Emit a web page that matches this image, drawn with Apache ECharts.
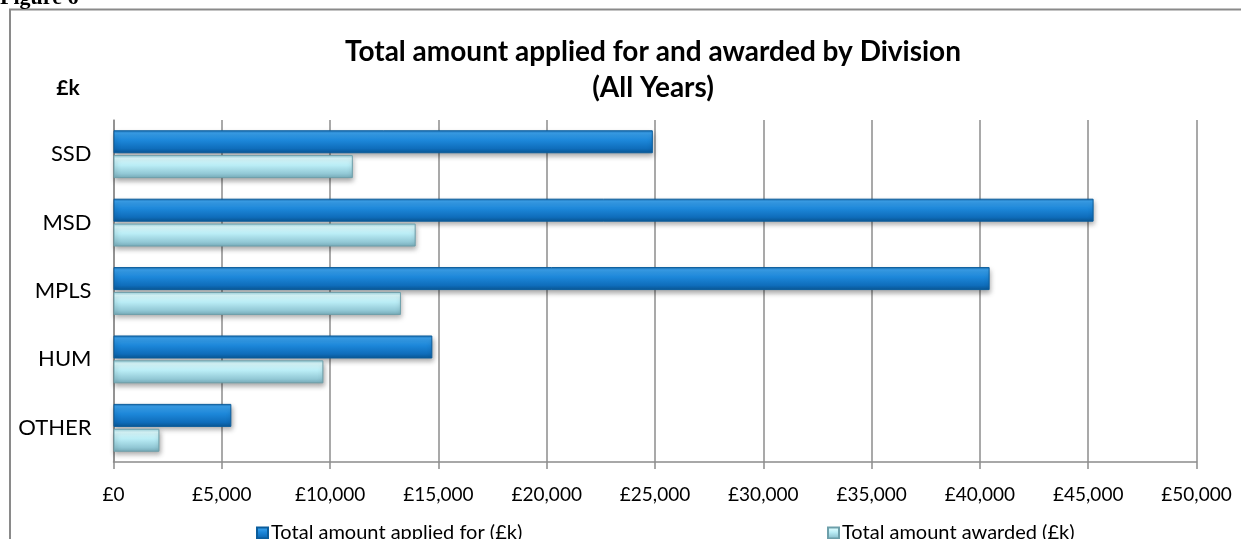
<!DOCTYPE html>
<html>
<head>
<meta charset="utf-8">
<script src="https://cdn.jsdelivr.net/npm/echarts@6/dist/echarts.min.js"></script>
<style>
html,body{margin:0;padding:0;background:#fff;}
#c{width:1241px;height:539px;}
</style>
</head>
<body>
<div id="c"></div>
<script>
const categories = ["SSD", "MSD", "MPLS", "HUM", "OTHER"];
const appliedValues = [24900, 45250, 40450, 14720, 5440];
const awardedValues = [11050, 13950, 13270, 9690, 2120];
const seriesNames = ["Total amount applied for (£k)", "Total amount awarded (£k)"];
const xTicks = { min: 0, max: 50000, interval: 5000 };

const FONT = "Lato, 'Open Sans', sans-serif";

const appliedGrad = new echarts.graphic.LinearGradient(0, 0, 0, 1, [
  { offset: 0, color: '#1a6db0' },
  { offset: 0.12, color: '#3aa2ee' },
  { offset: 0.45, color: '#1c86d8' },
  { offset: 0.8, color: '#0f6dbb' },
  { offset: 1, color: '#0a5794' }
]);
const awardedGrad = new echarts.graphic.LinearGradient(0, 0, 0, 1, [
  { offset: 0, color: '#98cfdc' },
  { offset: 0.15, color: '#dcfcff' },
  { offset: 0.45, color: '#b9ecf5' },
  { offset: 0.8, color: '#93c9d6' },
  { offset: 1, color: '#78adbb' }
]);

const chart = echarts.init(document.getElementById('c'), null, { renderer: 'canvas' });
chart.setOption({
  animation: false,
  backgroundColor: '#ffffff',
  title: {
    text: 'Total amount applied for and awarded by Division\n(All Years)',
    left: 648,
    top: 29,
    textAlign: 'center',
    textStyle: { fontFamily: FONT, fontWeight: 'bold', fontSize: 28, lineHeight: 36, color: '#000' }
  },
  graphic: [
    { type: 'rect', shape: { x: 10, y: 9.5, width: 1260, height: 560 }, style: { fill: 'none', stroke: '#8a8a8a', lineWidth: 2 }, silent: true, z: -10 },
    { type: 'text', left: 0, top: -13, style: { text: 'Figure 6', font: 'bold 22px "Liberation Serif", serif', fill: '#000' } },
    { type: 'text', x: 68, y: 88, style: { text: '£k', font: 'bold 21px ' + FONT, fill: '#000', textAlign: 'center', textVerticalAlign: 'middle' } }
  ],
  legend: [
    { data: [seriesNames[0]], left: 251, top: 518, itemWidth: 11, itemHeight: 11, itemGap: 4, icon: 'rect',
      textStyle: { fontFamily: FONT, fontSize: 20, color: '#000', padding: [0, 0, 0, -2] } },
    { data: [seriesNames[1]], left: 822, top: 518, itemWidth: 11, itemHeight: 11, itemGap: 4, icon: 'rect',
      textStyle: { fontFamily: FONT, fontSize: 20, color: '#000', padding: [0, 0, 0, -2] } }
  ],
  grid: { left: 113.5, right: 44.5, top: 120, bottom: 77, containLabel: false },
  xAxis: {
    type: 'value',
    min: xTicks.min, max: xTicks.max, interval: xTicks.interval,
    axisLine: { show: true, lineStyle: { color: '#8c8c8c', width: 1.5 } },
    axisTick: { show: true, length: 7, lineStyle: { color: '#8c8c8c', width: 1.5 } },
    splitLine: { show: true, lineStyle: { color: '#8c8c8c', width: 1.5 } },
    axisLabel: {
      fontFamily: FONT, fontSize: 19, color: '#000', margin: 23,
      formatter: v => '£' + v.toLocaleString('en-GB')
    }
  },
  yAxis: {
    type: 'category',
    data: categories,
    inverse: true,
    axisLine: { show: true, lineStyle: { color: '#8c8c8c', width: 1.5 } },
    axisTick: { show: false },
    axisLabel: { fontFamily: FONT, fontSize: 22, color: '#000', margin: 22 }
  },
  series: [
    {
      name: seriesNames[0], type: 'bar', data: appliedValues,
      barWidth: 23, barGap: '8%',
      itemStyle: { color: appliedGrad, borderColor: '#0b5d9c', borderWidth: 1,
        shadowColor: 'rgba(0,0,0,0.35)', shadowBlur: 5, shadowOffsetX: 1, shadowOffsetY: 3 }
    },
    {
      name: seriesNames[1], type: 'bar', data: awardedValues,
      barWidth: 23, barGap: '8%',
      itemStyle: { color: awardedGrad, borderColor: '#6d9faa', borderWidth: 1,
        shadowColor: 'rgba(0,0,0,0.35)', shadowBlur: 5, shadowOffsetX: 1, shadowOffsetY: 3 }
    }
  ]
});
</script>
</body>
</html>
